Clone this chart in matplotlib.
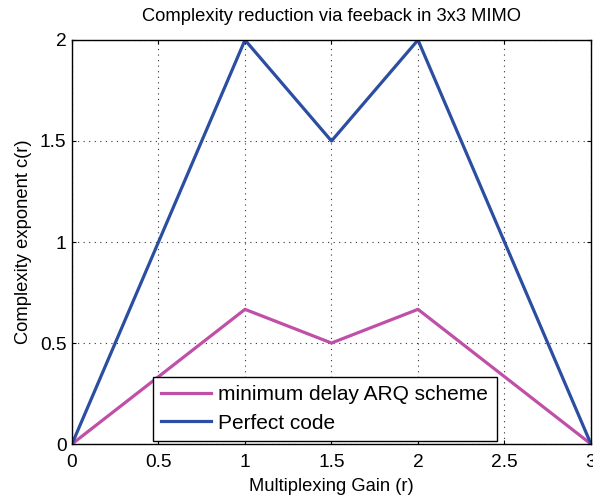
import matplotlib
matplotlib.use("Agg")
import matplotlib.pyplot as plt

r = [0, 1, 1.5, 2, 3]
arq = [0, 2/3, 0.5, 2/3, 0]
perfect = [0, 2, 1.5, 2, 0]
xticks = [0, 0.5, 1, 1.5, 2, 2.5, 3]
yticks = [0, 0.5, 1, 1.5, 2]

plt.rcParams['font.family'] = ['Liberation Sans', 'DejaVu Sans']

fig = plt.figure(figsize=(5.93, 4.98), dpi=100)
ax = fig.add_axes([0.1214, 0.1084, 0.8752, 0.8113])

ax.plot(r, arq, color='#c04fa8', linewidth=2.3, label='minimum delay ARQ scheme')
ax.plot(r, perfect, color='#2b4ea2', linewidth=2.3, label='Perfect code')

ax.set_xlim(0, 3)
ax.set_ylim(0, 2)
ax.set_xticks(xticks)
ax.set_yticks(yticks)
ax.set_xticklabels(['0', '0.5', '1', '1.5', '2', '2.5', '3'])
ax.set_yticklabels(['0', '0.5', '1', '1.5', '2'])
ax.tick_params(direction='in', top=True, right=True, labelsize=13.8, length=3)
ax.tick_params(axis='x', pad=7)
ax.tick_params(axis='y', pad=4)
ax.grid(True, linestyle=(0, (1, 4)), color='#333333', linewidth=0.8)
for s in ax.spines.values():
    s.set_linewidth(1.0)

ax.set_xlabel('Multiplexing Gain (r)', fontsize=13.2, labelpad=5)
ax.set_ylabel('Complexity exponent c(r)', fontsize=13.2, labelpad=6)
ax.set_title('Complexity reduction via feeback in 3x3 MIMO', fontsize=13.2, pad=14)

leg = ax.legend(loc='lower center', bbox_to_anchor=(0.487, 0.0), fontsize=15,
                fancybox=False, edgecolor='black', framealpha=1,
                handlelength=2.4, handletextpad=0.35, labelspacing=0.45,
                borderaxespad=0.15)
leg.get_frame().set_linewidth(1.0)

fig.savefig('out.png', dpi=100)
